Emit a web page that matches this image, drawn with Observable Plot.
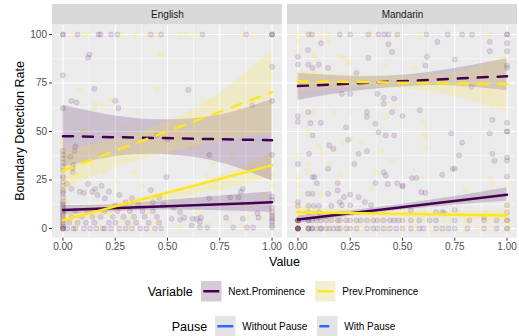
<!DOCTYPE html>
<html><head><meta charset="utf-8">
<script src="https://cdn.jsdelivr.net/npm/d3@7"></script>
<script src="https://cdn.jsdelivr.net/npm/@observablehq/plot@0.6"></script>
<style>
body{margin:0;background:#fff;font-family:"Liberation Sans",Arial,Helvetica,sans-serif;}
#wrap{position:relative;width:519px;height:336px;overflow:hidden;background:#fff;}
#wrap svg.plot{position:absolute;left:0;top:0;}
.t{position:absolute;white-space:nowrap;line-height:1;color:#000;}
.key{position:absolute;}
</style></head><body><div id="wrap"></div>
<script>
// ---------- categories ----------
const langs = ["English", "Mandarin"];
const variables = ["Next.Prominence", "Prev.Prominence"];
const pauses = ["Without Pause", "With Pause"];
const varColors = ["#440154", "#FDE725"];
const pauseColor = "#3366FF";
const xTicks = [0, 0.25, 0.5, 0.75, 1];
const xMinor = [0.125, 0.375, 0.625, 0.875];
const yTicks = [0, 25, 50, 75, 100];
const yMinor = [12.5, 37.5, 62.5, 87.5];

// ---------- raw points [x, y] ----------
const engNextPts = [
[0,100],[0,100],[0.07,100],[0.17,100],[0.18,100],[0.23,100],[0.26,100],[0.42,100],[0.47,100],[0.667,100],[0.875,100],[1,100],[1,100],[1,100],
[0.126,89.7],[0.12,88],[0,79],[0.15,72],[0.04,65.8],[0.065,65],[0.25,65.8],[0.265,62],[0,62],[0.6,71.5],[1,83.3],[0.905,63.4],[1,65.8],
[0.06,42.3],[0.055,40],[0.035,37],[0.047,29],[0.05,33],[0.047,31],[0.7,38],[1,38],[0.495,26.5],[0.86,20.4],[0.85,19],[0.7,15.6],[0.8,16],[0.84,16],[0.45,48],[0.5,46],
[0.02,23],[0.04,20.5],[0.08,19],[0.1,18.4],[0.12,23],[0.14,19],[0.155,20.5],[0.165,17.3],[0.185,22],[0.2,15.6],[0.22,19],[0.27,17.3],[0.25,12],[0.3,13.6],[0.33,15.6],[0.36,12],[0.42,19.8],[0.43,13.6],[0.46,16],[0.48,12],
[0,0],[0,0],[0,0],[0,0],[0,1],[0,2],[0,3],[0,4],[0,5],[0,6],[0,7],[0,8],[0,9],[0,10],[0,11],[0,12],[0,13],[0,14],[0,16],[0,18],[0,19],[0,20],[0,22],[0,24],[0,26],[0,27],[0,30],[0,32],[0,34],[0,36],[0,38],[0,40],
[0.02,0],[0.05,0],[0.06,0],[0.1,0],[0.13,0],[0.16,0],[0.19,0],[0.2,0],[0.23,0],[0.27,0],[0.3,0],[0.33,0],[0.37,0],[0.4,0],[0.44,0],[0.47,0],
[0.03,3],[0.07,3],[0.11,3],[0.15,3],[0.22,3],[0.25,3],[0.31,3],[0.35,3],[0.41,3],[0.46,3],
[0.04,6],[0.09,6],[0.14,6],[0.18,6],[0.24,6],[0.29,6],[0.34,6],[0.39,6],[0.45,6],
[0.06,9],[0.12,9],[0.2,9],[0.26,9],[0.32,9],[0.38,9],[0.43,9],
[0.56,8.4],[0.53,10.7],[0.52,5],[0.56,4.5],[0.58,5.6],[0.62,5],[0.64,5],[0.655,3.4],[0.66,5.6],[0.615,1.6],[0.655,0.5],[0.69,0.5],[0.78,5.6],[0.815,0.5],[0.86,5],[0.88,0.5],[0.91,0.5],[0.93,7.8],[0.935,5.6],
[1,16.5],[1,14.5],[1,10.7],[1,8.4],[1,6.8],[1,5.6],[1,4.5],[1,3.4],[1,1.6],[1,0.5]
];
const engPrevPts = [
[0.05,100],[0.1,100],[0.125,100],[0.28,100],[0.355,100],[0.4,100],[0.45,100],[0.556,100],[0.59,100],[0.63,100],[0.86,100],[0.91,100],[1,100],
[0.46,89.7],[0.47,90],[0.08,71.5],[0.45,71.6],[0.16,64.6],[0.19,63.4],[0.23,66],[0.15,62],[0.667,65.8],[0.7,65.6],[0.84,62],[1,79],[0.36,60],
[0.53,38.5],[0.72,33],[0.62,42],[0.81,38],[0.69,27],[0.62,21],[0.96,17.5],[1,22],[1,27],[0.56,0.8],[0.795,3.4],[0.885,5.6],[0.96,5.6],
[0,45],[0,40],[0,35],[0,30],[0,25],[0,20],[0,15],[0,10],[0,5],[0,0],
[0.185,38],[0.14,33],[0.2,29],[0.26,24],[0.34,29],[0.38,21.5],[0.12,11],[0.16,9],[0.22,7.5],[0.28,4],[0.33,5.6],[0.4,8.4],[0.45,3.4],[0.07,1.6],[0.18,0.8],[0.31,0.8],[0.43,0],[0.02,13.6],[0.05,25],[0.07,28],
[0.1,50],[0.3,52],[0.55,48],[0.75,20],[0.9,12],[0.5,12],[0.65,8],[0.7,2],[0.85,1],[1,10],[1,0]
];
const manNextPts = [
[0.05,100],[0.067,100],[0.2,100],[0.25,100],[0.337,100],[0.385,100],[0.413,100],[0.433,100],[0.475,100],[0.615,100],[0.716,100],[0.785,100],[0.833,100],[1,100],[1,100],
[0.048,92],[0,88.5],[0,84.5],[0.11,95.5],[0.05,84.5],[0.07,82.8],[0.1,84.5],[0.144,82.8],[0.28,80.2],[0.337,88],[0.433,95],[0.45,91],[0.667,96.2],[0.917,96.2],[1,95.5],[1,91.4],[0.617,88.5],[0.75,87],[0.917,91.4],[0.61,84],[1,84],[1,82.8],[0.83,73],
[0.21,69.4],[0.25,69.4],[0.38,69.4],[0.41,67.4],[0.41,64.3],[0.46,67],[0,57.9],[0,55],[0.05,60],[0.11,54.5],[0.06,54.3],[0.33,60],[0.33,57.5],[0.45,60],[0.23,52.2],[0.37,54],[0.583,61],[0.5,58],[0.93,56],[1,54.5],[1,50],
[0.07,48],[0.15,42.8],[0.17,41],[0.24,45.7],[0.385,49.6],[0.42,48],[0.46,48],[0.053,38.5],[0,33.3],[0.07,26.5],[0.08,26.5],[0.09,23.4],[0.144,30.8],[0.19,23.4],[0.27,33.3],[0.29,38.5],[0.33,39.9],[0.41,29],[0.42,27.3],[0.37,23.4],[0.43,23],[0.475,23.4],[0.5,22.2],[0.048,17.9],[0.07,17.9],[0.144,17.9],[0.19,19.6],[0.25,17.5],[0.29,16.2],[0.22,16.2],[0.2,13.6],[0.21,12],[0.25,12],[0.32,13.6],[0.35,12],
[0.733,49],[0.785,44.3],[0.917,49],[1,50],[0.77,37.7],[0.93,38.5],[0.94,34.9],[1,36.6],[1,35],[0.74,30.8],[0.75,30.8],[0.69,27.7],[1,26.8],[0.545,26],[0.566,26],[0.5,21.6],[0.59,18.7],[0.61,18.4],
[0,13.6],[0,11.7],[0.05,11.7],[0.075,11.7],[0.1,11.7],[0.16,11.7],[0.05,8.4],[0.1,8.4],[1,12],[1,8.4],[0.54,9.3],[0.66,8.4],[0.69,8.4],[0.7,8],[0.89,5.8],[0.75,9.5],
[0,4.2],[0,4.2],[0,4.2],[0,4.2],[0,4.2],[0,4.2],[0.05,4.2],[0.05,4.2],[0.067,4.2],[0.09,4.2],[0.11,4.2],[0.135,4.2],[0.16,4.2],[0.19,4.2],[0.2,4.2],[0.23,4.2],[0.25,4.2],[0.28,4.2],[0.3,4.2],[0.33,4.2],[0.36,4.2],[0.38,4.2],[0.41,4.2],[0.44,4.2],[0.46,4.2],[0.48,4.2],[0.5,4.2],[0.54,4.2],[0.58,4.2],[0.63,4.2],[0.66,4.2],[0.75,4.2],[0.82,4.2],[0.89,4.2],[0.95,4.2],[1,4.2],[1,4.2],
[0,0],[0,0],[0,0],[0,0],[0,0],[0,0],[0,0],[0,0],[0.05,0],[0.05,0],[0.05,0],[0.067,0],[0.067,0],[0.09,0],[0.11,0],[0.11,0],[0.135,0],[0.15,0],[0.17,0],[0.19,0],[0.2,0],[0.23,0],[0.25,0],[0.28,0],[0.33,0],[0.36,0],[0.38,0],[0.41,0],[0.44,0],[0.47,0],[0.5,0],[0.54,0],[0.58,0],[0.6,0],[0.66,0],[0.69,0],[0.72,0],[0.75,0],[0.81,0],[0.89,0],[0.95,0],[1,0],[1,0]
];
const manPrevPts = [
[0,100],[0.05,100],[0.11,100],[0.144,100],[0.35,100],[0.48,100],[0.583,100],[0.917,100],
[0,96.2],[0,91.4],[0.144,96],[0.08,89],[0.2,88.5],[0.22,88],[0.25,86],[0.24,85],[0.42,84],[0.556,82.6],[0.917,69.4],[0.92,63.2],[0.6,54.5],[0.46,63],[0.17,60],[0.25,60],[0.42,57.5],[0.07,60],[0.08,80],
[0.048,49.6],[0.26,46.7],[0.22,44.3],[0.1,42],[0.12,38.5],[0,37.6],[0.048,33.3],[0,26.5],[0,22.2],[0,17.9],[0.048,29],[0.2,27.3],[0.37,29],[0.11,17.5],[0.604,49],[0.61,46.7],[0.61,41.2],[0.566,30.4],[0.59,26],[0.917,26],[0.93,23],[1,23],[0.566,12],[1,12],[1,8.4],[0.4,40],[0.3,45],[0.15,33],[0.45,35],[0.35,20],[0.7,15],[0.8,20],[0.5,10],
[0,11.7],[0.05,11.7],[0,8.4],[0,8.4],[0.05,8.4],[0.2,8.4],[0.6,8.4],[0.9,8.4],
[0,4.2],[0,4.2],[0.05,4.2],[0.1,4.2],[0.15,4.2],[0.2,4.2],[0.25,4.2],[0.3,4.2],[0.35,4.2],[0.4,4.2],[0.5,4.2],[0.55,4.2],[0.6,4.2],[0.7,4.2],[0.73,4.2],[0.8,4.2],[0.82,4.2],[0.9,4.2],[1,4.2],[1,4.2],
[0,0],[0.05,0],[0.1,0],[0.14,0],[0.2,0],[0.25,0],[0.3,0],[0.36,0],[0.42,0],[0.5,0],[0.56,0],[0.64,0],[0.7,0],[0.8,0],[0.86,0],[0.92,0],[1,0],[1,0]
];

// ---------- fitted lines (value at x = 0 and x = 1) ----------
const fitX = [0, 1];
const engNextNoPause = [9.5, 13.5];
const engPrevNoPause = [4.3, 32.6];
const engNextPause = [47.6, 45.5];
const engPrevPause = [29.9, 70.3];
const manNextNoPause = [4.6, 17.4];
const manPrevNoPause = [8.4, 6.7];
const manNextPause = [73.4, 78.5];
const manPrevPause = [75.9, 74.4];

// ---------- confidence bands at bandX ----------
const bandX = [0, 0.25, 0.5, 0.75, 1];
const engNextNoPauseLo = [7.2, 8.8, 9.5, 9.2, 8.2];
const engNextNoPauseHi = [11.8, 12.4, 14.5, 16.8, 19];
const engPrevNoPauseLo = [1.5, 8, 14.5, 20, 26];
const engPrevNoPauseHi = [7.2, 13, 19.5, 27, 39];
const engNextPauseLo = [31.5, 37, 38, 34, 24.5];
const engNextPauseHi = [63.5, 58, 56, 58.5, 66.5];
const engPrevPauseLo = [19.5, 31, 39, 45, 49];
const engPrevPauseHi = [40.5, 46, 55, 70, 91.8];
const manNextNoPauseLo = [2.6, 6.3, 9.5, 12, 14];
const manNextNoPauseHi = [6.6, 9.2, 12.5, 16.5, 21];
const manPrevNoPauseLo = [6.2, 6.5, 6, 5, 3.8];
const manPrevNoPauseHi = [10.7, 9.5, 8.8, 8.8, 9.6];
const manNextPauseLo = [66, 70.5, 73, 73.5, 71];
const manNextPauseHi = [80, 78.5, 79, 82.5, 87.5];
const manPrevPauseLo = [70.5, 72.5, 72, 68, 60];
const manPrevPauseHi = [81.2, 79, 78.5, 80.5, 88.8];

// ---------- tables built from the arrays ----------
const pointSets = [
  [langs[0], variables[0], engNextPts], [langs[0], variables[1], engPrevPts],
  [langs[1], variables[0], manNextPts], [langs[1], variables[1], manPrevPts]
];
const points = pointSets.flatMap(([lang, variable, pts]) => pts.map(([x, y]) => ({lang, variable, x, y})));

const groups = [
  [langs[0], variables[0], pauses[0], engNextNoPause, engNextNoPauseLo, engNextNoPauseHi],
  [langs[0], variables[1], pauses[0], engPrevNoPause, engPrevNoPauseLo, engPrevNoPauseHi],
  [langs[0], variables[0], pauses[1], engNextPause, engNextPauseLo, engNextPauseHi],
  [langs[0], variables[1], pauses[1], engPrevPause, engPrevPauseLo, engPrevPauseHi],
  [langs[1], variables[0], pauses[0], manNextNoPause, manNextNoPauseLo, manNextNoPauseHi],
  [langs[1], variables[1], pauses[0], manPrevNoPause, manPrevNoPauseLo, manPrevNoPauseHi],
  [langs[1], variables[0], pauses[1], manNextPause, manNextPauseLo, manNextPauseHi],
  [langs[1], variables[1], pauses[1], manPrevPause, manPrevPauseLo, manPrevPauseHi]
];
const bandRows = groups.flatMap(([lang, variable, pause, fit, lo, hi]) =>
  bandX.map((x, i) => ({lang, variable, pause, key: lang + variable + pause, x, lo: lo[i], hi: hi[i]})));
const fitRows = groups.flatMap(([lang, variable, pause, fit]) =>
  fitX.map((x, i) => ({lang, variable, pause, key: lang + variable + pause, x, y: fit[i]})));

// ---------- plot ----------
const xDom = [-0.05, 1.05];
const panelTop = 105;
const yDom = [-5, 115.46];
const W = 519, H = 270;

const chart = Plot.plot({
  width: W, height: H,
  marginTop: 4, marginBottom: 32.3, marginLeft: 52, marginRight: 2,
  style: {fontFamily: '"Liberation Sans", Arial, Helvetica, sans-serif', fontSize: "10px", background: "transparent", color: "#333333"},
  fx: {domain: langs, axis: null, paddingInner: 0.0212, paddingOuter: 0, round: false, label: null},
  x: {domain: xDom, axis: null},
  y: {domain: yDom, axis: null},
  color: {domain: variables, range: varColors},
  marks: [
    Plot.rect([0], {x1: xDom[0], x2: xDom[1], y1: yDom[0], y2: panelTop, fill: "#ebebeb"}),
    Plot.ruleY(yMinor, {stroke: "white", strokeWidth: 0.55}),
    Plot.ruleX(xMinor, {y1: yDom[0], y2: panelTop, stroke: "white", strokeWidth: 0.55}),
    Plot.ruleY(yTicks, {stroke: "white", strokeWidth: 1.1}),
    Plot.ruleX(xTicks, {y1: yDom[0], y2: panelTop, stroke: "white", strokeWidth: 1.1}),
    Plot.rect([0], {x1: xDom[0], x2: xDom[1], y1: panelTop, y2: yDom[1], fill: "#d9d9d9"}),
    Plot.text(langs, {fx: d => d, x: 0.5, y: (panelTop + yDom[1]) / 2, text: d => d, fill: "#1a1a1a", fontSize: 10}),
    Plot.dot(points, {fx: "lang", x: "x", y: "y", r: 2.6, fill: "variable", stroke: "variable",
      fillOpacity: 0.12, strokeOpacity: 0.16, strokeWidth: 0.6}),
    Plot.areaY(bandRows, {fx: "lang", x: "x", y1: "lo", y2: "hi", z: "key", fill: "variable", fillOpacity: 0.18, curve: "natural"}),
    Plot.line(fitRows.filter(d => d.pause === pauses[0]), {fx: "lang", x: "x", y: "y", z: "key", stroke: "variable", strokeWidth: 2.5}),
    Plot.line(fitRows.filter(d => d.pause === pauses[1]), {fx: "lang", x: "x", y: "y", z: "key", stroke: "variable", strokeWidth: 2.5, strokeDasharray: "10,10"}),
    Plot.axisX({ticks: xTicks, tickFormat: d3.format(".2f"), tickSize: 3, tickPadding: 2, fontSize: 10, fill: "#4d4d4d", stroke: "#333333", label: null}),
    Plot.axisY({ticks: yTicks, tickSize: 3, tickPadding: 2.5, fontSize: 10, fill: "#4d4d4d", stroke: "#333333", label: null})
  ]
});
chart.classList.add("plot");
const wrap = document.getElementById("wrap");
wrap.appendChild(chart);

// ---------- titles & legend (HTML) ----------
function txt(s, left, top, size, extra) {
  const d = document.createElement("div");
  d.className = "t"; d.textContent = s;
  d.style.left = left + "px"; d.style.top = top + "px"; d.style.fontSize = size + "px";
  d.style.transform = extra || "translateY(-50%)";
  wrap.appendChild(d); return d;
}
txt("Boundary Detection Rate", 20, 131, 12.5, "translate(-50%,-50%) rotate(-90deg)");
txt("Value", 284.5, 262, 12.5, "translate(-50%,-50%)");

function key(left, cy, bg, color, dash, len) {
  const ns = "http://www.w3.org/2000/svg";
  const s = document.createElementNS(ns, "svg");
  s.setAttribute("width", 20.5); s.setAttribute("height", 20.5);
  s.setAttribute("class", "key");
  s.style.left = left + "px"; s.style.top = (cy - 10.25) + "px";
  const r = document.createElementNS(ns, "rect");
  r.setAttribute("width", 20.5); r.setAttribute("height", 20.5); r.setAttribute("fill", bg);
  s.appendChild(r);
  const l = document.createElementNS(ns, "line");
  l.setAttribute("x1", 2.3); l.setAttribute("x2", 2.3 + len); l.setAttribute("y1", 10.25); l.setAttribute("y2", 10.25);
  l.setAttribute("stroke", color); l.setAttribute("stroke-width", 2.5);
  if (dash) l.setAttribute("stroke-dasharray", dash);
  s.appendChild(l);
  wrap.appendChild(s);
}
const row1 = 291.7, row2 = 326.7;
txt("Variable", 147.7, row1, 12.5);
key(201, row1, "#d6cad9", varColors[0], null, 16);
txt(variables[0], 228.3, row1, 10);
key(315, row1, "#f3efd0", varColors[1], null, 16);
txt(variables[1], 342.3, row1, 10);
txt("Pause", 171.7, row2, 12.5);
key(215, row2, "#e4e4e4", pauseColor, null, 16);
txt(pauses[0], 242.3, row2, 10);
key(317.3, row2, "#e4e4e4", pauseColor, "10,10", 16);
txt(pauses[1], 344.3, row2, 10);
</script></body></html>
